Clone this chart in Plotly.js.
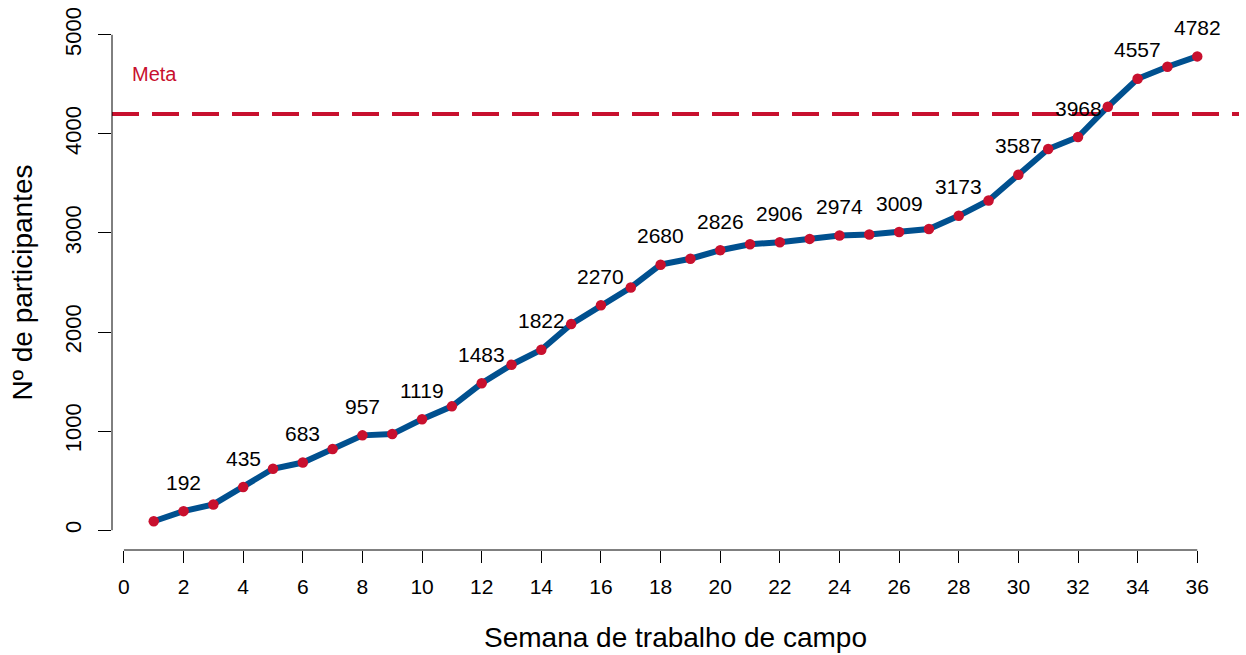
<!DOCTYPE html>
<html>
<head>
<meta charset="utf-8">
<script src="https://cdn.plot.ly/plotly-3.0.1.min.js"></script>
<style>html,body{margin:0;padding:0;background:#fff;}#chart{width:1246px;height:655px;}</style>
</head>
<body>
<div id="chart"></div>
<script>
const weeks = [1,2,3,4,5,6,7,8,9,10,11,12,13,14,15,16,17,18,19,20,21,22,23,24,25,26,27,28,29,30,31,32,33,34,35,36];
const participants = [90,192,260,435,620,683,820,957,970,1119,1250,1483,1670,1822,2080,2270,2450,2680,2740,2826,2886,2906,2940,2974,2985,3009,3040,3173,3328,3587,3847,3968,4274,4557,4678,4782];
const labelWeeks = [2,4,6,8,10,12,14,16,18,20,22,24,26,28,30,32,34,36];
const goal = 4200;
const goalLabel = "Meta";
const xTicks = [0,2,4,6,8,10,12,14,16,18,20,22,24,26,28,30,32,34,36];
const yTicks = [0,1000,2000,3000,4000,5000];
const xTitle = "Semana de trabalho de campo";
const yTitle = "Nº de participantes";

const FONT = "Liberation Sans, Arial, sans-serif";
const RED = "#C8102E";
const BLUE = "#00508F";

const trace = {
  x: weeks, y: participants, type: "scatter", mode: "lines+markers",
  line: {color: BLUE, width: 6},
  marker: {color: RED, size: 10.5},
  hoverinfo: "x+y"
};

const annotations = labelWeeks.map(w => {
  const i = weeks.indexOf(w);
  return {x: w, y: participants[i], text: String(participants[i]), showarrow: false,
    xref: "x", yref: "y", yanchor: "middle", yshift: 29,
    font: {family: FONT, size: 21, color: "#000"}};
});
annotations.push({xref: "paper", yref: "y", x: 0.016, y: 4600, xanchor: "left", yanchor: "middle",
  text: goalLabel, showarrow: false, font: {family: FONT, size: 20, color: RED}});

const shapes = [
  {type: "line", xref: "paper", yref: "y", x0: 0, x1: 1, y0: goal, y1: goal,
   line: {color: RED, width: 4, dash: "27px,13px"}, layer: "below"},
  {type: "line", xref: "x", yref: "paper", x0: 0, x1: 36, y0: 0, y1: 0,
   line: {color: "#000", width: 1}},
  {type: "line", xref: "paper", yref: "y", x0: 0, x1: 0, y0: 0, y1: 5000,
   line: {color: "#000", width: 1}}
];

const layout = {
  width: 1246, height: 655,
  margin: {l: 112, r: 7, t: 15, b: 105},
  paper_bgcolor: "#fff", plot_bgcolor: "#fff",
  showlegend: false,
  font: {family: FONT, color: "#000"},
  xaxis: {
    range: [-0.4, 37.4], tickmode: "array", tickvals: xTicks,
    ticks: "outside", ticklen: 12, tickwidth: 1, tickcolor: "#000",
    showgrid: false, zeroline: false, showline: false,
    tickfont: {family: FONT, size: 21, color: "#000"},
    ticklabelstandoff: 6,
    title: {text: xTitle, font: {family: FONT, size: 28, color: "#000"}, standoff: 30}
  },
  yaxis: {
    range: [-200, 5200], tickmode: "array", tickvals: yTicks,
    ticks: "outside", ticklen: 13, tickwidth: 1, tickcolor: "#000",
    showgrid: false, zeroline: false, showline: false,
    tickangle: -90,
    tickfont: {family: FONT, size: 22, color: "#000"},
    ticklabelstandoff: 8,
    title: {text: yTitle, font: {family: FONT, size: 28, color: "#000"}, standoff: 20}
  },
  shapes: shapes,
  annotations: annotations
};

Plotly.newPlot("chart", [trace], layout, {displayModeBar: false, staticPlot: true});
</script>
</body>
</html>
